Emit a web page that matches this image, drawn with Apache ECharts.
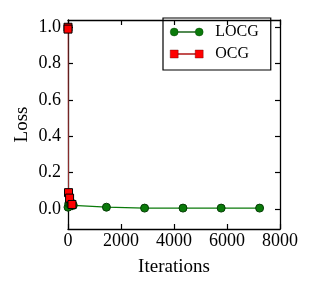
<!DOCTYPE html>
<html><head><meta charset="utf-8">
<script src="https://cdn.jsdelivr.net/npm/echarts@6/dist/echarts.min.js"></script>
<style>html,body{margin:0;padding:0;background:#fff}#c{width:312px;height:291px}</style>
</head><body><div id="c"></div>
<script>
var xTicks = [0, 2000, 4000, 6000, 8000];
var yTicks = [0.0, 0.2, 0.4, 0.6, 0.8, 1.0];
var locgX = [0, 30, 60, 90, 120, 160, 200, 1450, 2890, 4340, 5780, 7230];
var locgY = [0.01, 0.03, 0.035, 0.03, 0.035, 0.025, 0.02, 0.01, 0.005, 0.005, 0.005, 0.005];
var ocgX = [0, 0, 20, 60, 150];
var ocgY = [1.0, 0.99, 0.09, 0.06, 0.025];
var seriesNames = ['LOCG', 'OCG'];

function pairs(xs, ys){ return xs.map(function(x,i){return [x, ys[i]];}); }
var font = 'Liberation Serif';
var chart = echarts.init(document.getElementById('c'));
var axisLine = {show:true, onZero:false, lineStyle:{color:'#000', width:1.3}};
var tick = {inside:true, length:5, lineStyle:{color:'#000', width:1.2}};
var circIcon = 'path://M0,4 A4,4 0 1,1 8,4 A4,4 0 1,1 0,4 Z M25,4 A4,4 0 1,1 33,4 A4,4 0 1,1 25,4 Z M8,3.6 L25,3.6 L25,4.4 L8,4.4 Z';
var rectIcon = 'path://M0,0 L8,0 L8,8 L0,8 Z M25,0 L33,0 L33,8 L25,8 Z M8,3.6 L25,3.6 L25,4.4 L8,4.4 Z';
chart.setOption({
  animation:false,
  textStyle:{fontFamily:font},
  grid:{left:68, right:32, top:20, bottom:62, containLabel:false},
  legend:{
    data:[
      {name:seriesNames[0], icon:circIcon, itemStyle:{color:'#0a7a0a', borderColor:'#063d06', borderWidth:0.4}},
      {name:seriesNames[1], icon:rectIcon, itemStyle:{color:'#ff0000', borderColor:'#600000', borderWidth:0.4}}
    ],
    orient:'vertical', left:163, top:18,
    itemWidth:33, itemHeight:8, itemGap:6,
    padding:[6,12,8,7], borderColor:'#000', borderWidth:1.2,
    textStyle:{fontFamily:font, fontSize:16, color:'#000', padding:[0,0,0,7]}
  },
  xAxis:[{
    type:'value', min:0, max:8000, interval:2000,
    name:'Iterations', nameLocation:'middle', nameGap:29, nameMoveOverlap:false,
    nameTextStyle:{fontFamily:font, fontSize:19, color:'#000'},
    axisLine:axisLine, axisTick:tick,
    axisLabel:{fontFamily:font, fontSize:18, color:'#000', margin:3,
      formatter:function(v){return String(v);}},
    splitLine:{show:false}
  },{
    type:'value', min:0, max:8000, interval:2000, position:'top',
    axisLine:axisLine, axisTick:tick,
    axisLabel:{show:false}, splitLine:{show:false}
  }],
  yAxis:[{
    type:'value', min:-0.11, max:1.04,
    name:'Loss', nameLocation:'middle', nameGap:36, nameMoveOverlap:false,
    nameTextStyle:{fontFamily:font, fontSize:19, color:'#000'},
    axisLine:axisLine,
    axisTick:{inside:true, length:5, lineStyle:{color:'#000', width:1.2}, customValues:yTicks},
    axisLabel:{fontFamily:font, fontSize:18, color:'#000', margin:7,
      customValues:yTicks, formatter:function(v){return v.toFixed(1);}},
    splitLine:{show:false}
  },{
    type:'value', min:-0.11, max:1.04, position:'right',
    axisLine:axisLine,
    axisTick:{inside:true, length:5, lineStyle:{color:'#000', width:1.2}, customValues:yTicks},
    axisLabel:{show:false, customValues:yTicks}, splitLine:{show:false}
  }],
  series:[{
    name:'LOCG', type:'line', data:pairs(locgX, locgY),
    symbol:'circle', symbolSize:8,
    itemStyle:{color:'#0a7a0a', borderColor:'#063d06', borderWidth:1},
    lineStyle:{color:'#0a7a0a', width:1.3}
  },{
    name:'OCG', type:'line', data:pairs(ocgX, ocgY),
    symbol:'rect', symbolSize:8,
    itemStyle:{color:'#ff0000', borderColor:'#000', borderWidth:1},
    lineStyle:{color:'#ff5050', width:0.6}
  }]
});
</script></body></html>
